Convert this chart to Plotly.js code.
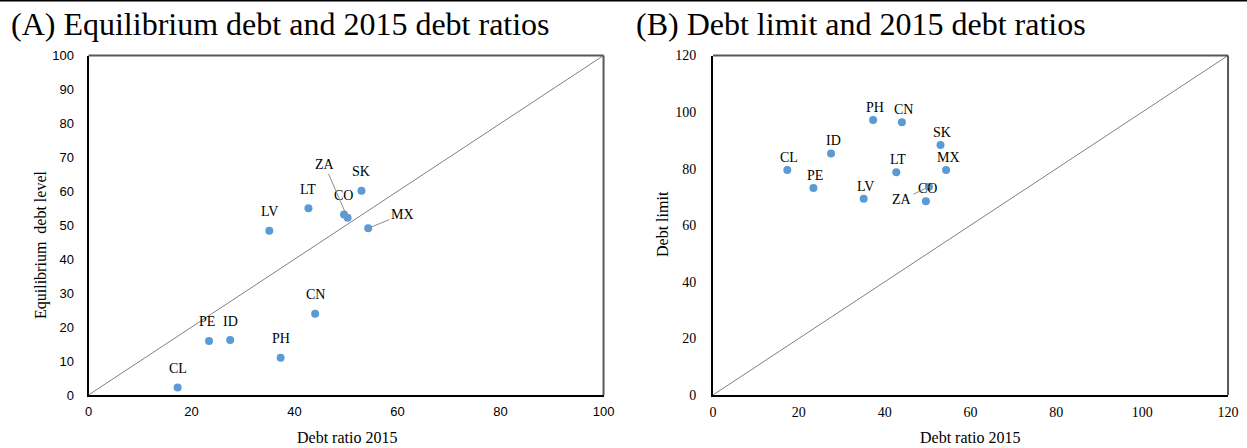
<!DOCTYPE html>
<html>
<head>
<meta charset="utf-8">
<script src="https://cdn.plot.ly/plotly-3.0.1.min.js"></script>
<style>
  html, body { margin: 0; padding: 0; background: #fff; }
  #chart { width: 1247px; height: 448px; }
</style>
</head>
<body>
<div id="chart"></div>
<script>
// Country codes and the three debt measures (percent of GDP)
const countries   = ['CL', 'PE', 'ID', 'PH', 'CN', 'LV', 'LT', 'SK', 'CO', 'ZA', 'MX'];
const debt2015    = [17.3, 23.4, 27.5, 37.3, 44.0, 35.1, 42.7, 53.0, 49.6, 50.3, 54.3];
const equilibrium = [2.2, 15.9, 16.2, 11.0, 23.9, 48.4, 55.0, 60.2, 53.2, 52.2, 49.1];
const debtLimit   = [79.5, 73.2, 85.4, 97.2, 96.4, 69.4, 78.7, 88.4, 68.5, 73.6, 79.5];

// Axis ranges and tick values
const rangeA = [0, 100];
const rangeB = [0, 120];
const ticksA = [0, 20, 40, 60, 80, 100];
const ticksAy = [0, 10, 20, 30, 40, 50, 60, 70, 80, 90, 100];
const ticksB = [0, 20, 40, 60, 80, 100, 120];

const blue = '#5B9BD5';
const serif = 'Liberation Serif, Times New Roman, serif';
const sans = 'Liberation Sans, Arial, sans-serif';

// Label placement (pixel offsets from each point); leader lines where set
const labelA = {
  default: {dx: 0, dy: -19},
  ZA: {leader: true, ax: -23, ay: -53},
  MX: {leader: true, ax: 34, ay: -14},
  PE: {dx: -2, dy: -20}
};
const labelB = {
  default: {dx: 2, dy: -12.5},
  ZA: {leader: true, ax: -27, ay: 13}
};

function labels(xs, ys, xref, yref, cfg) {
  return countries.map((c, i) => {
    const o = Object.assign({}, cfg.default, cfg[c] || {});
    const base = {
      x: xs[i], y: ys[i], xref: xref, yref: yref, text: c,
      font: {family: serif, size: 14, color: '#000'}
    };
    if (o.leader) {
      return Object.assign(base, {
        showarrow: true, arrowhead: 0, arrowwidth: 1, arrowcolor: '#8c8c8c',
        ax: o.ax, ay: o.ay, standoff: 0
      });
    }
    return Object.assign(base, {showarrow: false, xshift: o.dx, yshift: -o.dy});
  });
}

const traces = [
  {x: rangeA, y: rangeA, xaxis: 'x', yaxis: 'y', mode: 'lines',
   line: {color: '#808080', width: 1}, hoverinfo: 'skip'},
  {x: debt2015, y: equilibrium, text: countries, xaxis: 'x', yaxis: 'y', mode: 'markers',
   marker: {color: blue, size: 8}},
  {x: rangeB, y: rangeB, xaxis: 'x2', yaxis: 'y2', mode: 'lines',
   line: {color: '#808080', width: 1}, hoverinfo: 'skip'},
  {x: debt2015, y: debtLimit, text: countries, xaxis: 'x2', yaxis: 'y2', mode: 'markers',
   marker: {color: blue, size: 8}}
];

const yDom = [0.1183, 0.8761];
const domA = [0.0710, 0.4840];
const domB = [0.5718, 0.9848];

const axisBase = {
  showgrid: false, zeroline: false, ticks: '',
  showline: true, linecolor: '#000', linewidth: 2
};

const layout = {
  width: 1247, height: 448,
  margin: {l: 0, r: 0, t: 0, b: 0},
  paper_bgcolor: '#fff', plot_bgcolor: '#fff',
  showlegend: false,
  xaxis: Object.assign({}, axisBase, {domain: domA, range: rangeA, tickvals: ticksA,
    anchor: 'y', tickfont: {family: sans, size: 13, color: '#000'}, ticklabelstandoff: 3}),
  yaxis: Object.assign({}, axisBase, {domain: yDom, range: rangeA, tickvals: ticksAy,
    anchor: 'x', tickfont: {family: sans, size: 13, color: '#000'}, ticklabelstandoff: 10}),
  xaxis2: Object.assign({}, axisBase, {domain: domB, range: rangeB, tickvals: ticksB,
    anchor: 'y2', tickfont: {family: serif, size: 14, color: '#000'}, ticklabelstandoff: 3}),
  yaxis2: Object.assign({}, axisBase, {domain: yDom, range: rangeB, tickvals: ticksB,
    anchor: 'x2', tickfont: {family: serif, size: 14, color: '#000'}, ticklabelstandoff: 12}),
  shapes: [
    // rule across the top of the figure
    {type: 'line', xref: 'paper', yref: 'paper', x0: 0, x1: 1, y0: 0.999, y1: 0.999,
     line: {color: '#000', width: 2}},
    // top and right frame edges of each plot area
    {type: 'line', xref: 'paper', yref: 'paper', x0: domA[0], x1: domA[1], y0: yDom[1], y1: yDom[1],
     line: {color: '#595959', width: 2}},
    {type: 'line', xref: 'paper', yref: 'paper', x0: domA[1], x1: domA[1], y0: yDom[0], y1: yDom[1],
     line: {color: '#595959', width: 2}},
    {type: 'line', xref: 'paper', yref: 'paper', x0: domB[0], x1: domB[1], y0: yDom[1], y1: yDom[1],
     line: {color: '#595959', width: 2}},
    {type: 'line', xref: 'paper', yref: 'paper', x0: domB[1], x1: domB[1], y0: yDom[0], y1: yDom[1],
     line: {color: '#595959', width: 2}}
  ],
  annotations: [
    {text: '(A) Equilibrium debt and 2015 debt ratios', xref: 'paper', yref: 'paper',
     x: 9 / 1247, y: 1 - 24 / 448, xanchor: 'left', yanchor: 'middle', showarrow: false,
     font: {family: serif, size: 32, color: '#000'}},
    {text: '(B) Debt limit and 2015 debt ratios', xref: 'paper', yref: 'paper',
     x: 634 / 1247, y: 1 - 24 / 448, xanchor: 'left', yanchor: 'middle', showarrow: false,
     font: {family: serif, size: 32, color: '#000'}},
    {text: 'Debt ratio 2015', xref: 'paper', yref: 'paper',
     x: 347 / 1247, y: 1 - 437 / 448, xanchor: 'center', yanchor: 'middle', showarrow: false,
     font: {family: serif, size: 16, color: '#000'}},
    {text: 'Debt ratio 2015', xref: 'paper', yref: 'paper',
     x: 970 / 1247, y: 1 - 437 / 448, xanchor: 'center', yanchor: 'middle', showarrow: false,
     font: {family: serif, size: 16, color: '#000'}},
    {text: 'Equilibrium&nbsp; debt level', xref: 'paper', yref: 'paper', textangle: -90,
     x: 41 / 1247, y: 1 - 245 / 448, xanchor: 'center', yanchor: 'middle', showarrow: false,
     font: {family: serif, size: 16, color: '#000'}},
    {text: 'Debt limit', xref: 'paper', yref: 'paper', textangle: -90,
     x: 662 / 1247, y: 1 - 224 / 448, xanchor: 'center', yanchor: 'middle', showarrow: false,
     font: {family: serif, size: 16, color: '#000'}}
  ].concat(labels(debt2015, equilibrium, 'x', 'y', labelA))
   .concat(labels(debt2015, debtLimit, 'x2', 'y2', labelB))
};

Plotly.newPlot('chart', traces, layout, {displayModeBar: false, staticPlot: true});
</script>
</body>
</html>
